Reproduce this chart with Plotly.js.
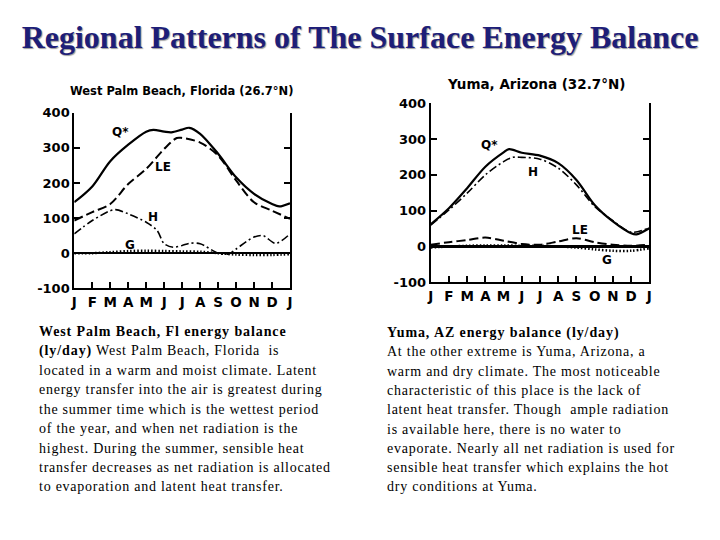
<!DOCTYPE html>
<html>
<head>
<meta charset="utf-8">
<script src="https://cdn.plot.ly/plotly-3.0.1.min.js"></script>
<style>html,body{margin:0;padding:0;background:#fff;}#chart{width:720px;height:540px;}</style>
</head>
<body>
<div id="chart"></div>
<script>
// ---- Data (ly/day), x = month index (0 = Jan ... 12 = Jan) ----
const monthLabels = ["J","F","M","A","M","J","J","A","S","O","N","D","J"];
const monthPos = [0,1,2,3,4,5,6,7,8,9,10,11,12];
const yTickVals = [-100,0,100,200,300,400];
const yTickText = ["-100","0","100","200","300","400"];

// West Palm Beach, Florida
const wpbQx  = [0,1,2,3,4,4.4,5,5.4,6,6.4,7,8,9,10,11,11.4,12];
const wpbQy  = [145,190,262,309,346,351,346,344,352,357,340,283,216,169,140,133,142];
const wpbLEx = [0,1,2,3,4,5,5.7,6,7,8,9,10,11,12];
const wpbLEy = [93,117,140,197,240,297,328,328,315,278,207,145,121,98];
const wpbHx  = [0,1,2,2.3,3,4,4.6,5,5.5,6,6.4,7,8,8.6,9,10,10.5,11.2,12];
const wpbHy  = [55,93,121,124,112,88,65,27,17,22,28,27,0,-2,12,46,50,28,55];
const wpbGx  = [0,1,2,3,4,5,6,7,8,9,10,11,12];
const wpbGy  = [0,0,3,6,7,6,5,4,0,-4,-5,-5,-3];

// Yuma, Arizona
const yumQx  = [0,1,2,3,4,4.3,5,6,7,8,9,10,11,11.3,12];
const yumQy  = [62,107,163,223,263,272,262,254,233,186,116,70,37,34,51];
const yumHx  = [0,1,2,3,4,4.5,5,6,7,8,9,10,11,12];
const yumHy  = [60,102,149,200,237,249,249,244,219,172,112,72,40,52];
const yumLEx = [0,1,2,3,4,5,6,7,8,9,10,11,12];
const yumLEy = [5,12,18,25,16,7,5,14,23,12,5,2,5];
const yumGx  = [0,1,2,3,4,5,6,7,8,9,10,11,12];
const yumGy  = [-3,0,2,3,3,2,2,0,-3,-8,-12,-12,-5];

const mainTitle = "Regional Patterns of The Surface Energy Balance";
const leftPanelTitle = "West Palm Beach, Florida (26.7°N)";
const rightPanelTitle = "Yuma, Arizona (32.7°N)";

const leftText = [
  "<b>West Palm Beach, Fl energy balance</b>",
  "<b>(ly/day)</b> West Palm Beach, Florida  is",
  "located in a warm and moist climate. Latent",
  "energy transfer into the air is greatest during",
  "the summer time which is the wettest period",
  "of the year, and when net radiation is the",
  "highest. During the summer, sensible heat",
  "transfer decreases as net radiation is allocated",
  "to evaporation and latent heat transfer."
];
const rightText = [
  "<b>Yuma, AZ energy balance (ly/day)</b>",
  "At the other extreme is Yuma, Arizona, a",
  "warm and dry climate. The most noticeable",
  "characteristic of this place is the lack of",
  "latent heat transfer. Though  ample radiation",
  "is available here, there is no water to",
  "evaporate. Nearly all net radiation is used for",
  "sensible heat transfer which explains the hot",
  "dry conditions at Yuma."
];

// ---- Traces ----
function tr(x, y, dash, w, xa, ya) {
  return {x: x, y: y, type: 'scatter', mode: 'lines', xaxis: xa, yaxis: ya,
          line: {color: '#000', width: w, dash: dash, shape: 'spline', smoothing: 0.9},
          hoverinfo: 'skip', showlegend: false};
}
const traces = [
  tr(wpbQx, wpbQy, 'solid', 2.2, 'x', 'y'),
  tr(wpbLEx, wpbLEy, '9px,4px', 2, 'x', 'y'),
  tr(wpbHx, wpbHy, '8px,3px,2px,3px', 1.6, 'x', 'y'),
  tr(wpbGx, wpbGy, '1.5px,2px', 2.5, 'x', 'y'),
  tr(yumQx, yumQy, 'solid', 2.2, 'x2', 'y2'),
  tr(yumHx, yumHy, '8px,3px,2px,3px', 1.6, 'x2', 'y2'),
  tr(yumLEx, yumLEy, '9px,4px', 2, 'x2', 'y2'),
  tr(yumGx, yumGy, '1.5px,2px', 2.5, 'x2', 'y2')
];

function xax(domain, anchor) {
  return {domain: domain, anchor: anchor, range: [0, 12], tickvals: monthPos, ticktext: monthLabels,
          ticks: 'inside', ticklen: 6, tickwidth: 2, tickcolor: '#000', showline: true, linewidth: 2,
          linecolor: '#000', showgrid: false, zeroline: false, fixedrange: true,
          tickfont: {family: 'DejaVu Sans', size: 13.5, weight: 'bold', color: '#000'}};
}
function yax(domain, anchor) {
  return {domain: domain, anchor: anchor, range: [-100, 400], tickvals: yTickVals, ticktext: yTickText,
          ticks: 'inside', ticklen: 6, tickwidth: 2, tickcolor: '#000', mirror: 'ticks', showline: true,
          linewidth: 2, linecolor: '#000', showgrid: false, zeroline: true, zerolinewidth: 2.5,
          zerolinecolor: '#000', fixedrange: true,
          tickfont: {family: 'DejaVu Sans', size: 13, weight: 'bold', color: '#000'}};
}

const lblFont = {family: 'DejaVu Sans', size: 12, weight: 'bold', color: '#000'};
function lbl(text, x, y, xr, yr) {
  return {text: text, x: x, y: y, xref: xr, yref: yr, xanchor: 'center', yanchor: 'middle',
          showarrow: false, font: lblFont};
}
const annotations = [
  lbl('Q*', 2.55, 345, 'x', 'y'),
  lbl('LE', 4.95, 245, 'x', 'y'),
  lbl('H', 4.4, 103, 'x', 'y'),
  lbl('G', 3.1, 22, 'x', 'y'),
  lbl('Q*', 3.25, 284, 'x2', 'y2'),
  lbl('H', 5.63, 209, 'x2', 'y2'),
  lbl('LE', 8.2, 47, 'x2', 'y2'),
  lbl('G', 9.66, -37, 'x2', 'y2'),
  {text: leftPanelTitle, x: 181.7/720, y: 1 - 90.5/540, xref: 'paper', yref: 'paper', showarrow: false,
   xanchor: 'center', yanchor: 'middle', font: {family: 'DejaVu Sans', size: 11.5, weight: 'bold', color: '#000'}},
  {text: rightPanelTitle, x: 536/720, y: 1 - 84.5/540, xref: 'paper', yref: 'paper', showarrow: false,
   xanchor: 'center', yanchor: 'middle', font: {family: 'DejaVu Sans', size: 13.5, weight: 'bold', color: '#000'}}
];
const firstTextIndex = annotations.length;
const txtFont = {family: 'Liberation Serif, Times New Roman, serif', size: 14, color: '#000'};
leftText.forEach(function (s, i) {
  annotations.push({text: s, x: 37/720, y: 1 - (331.7 + 19.4*i)/540, xref: 'paper', yref: 'paper',
    xanchor: 'left', yanchor: 'middle', align: 'left', showarrow: false, font: txtFont});
});
rightText.forEach(function (s, i) {
  annotations.push({text: s, x: 385/720, y: 1 - (332.5 + 19.3*i)/540, xref: 'paper', yref: 'paper',
    xanchor: 'left', yanchor: 'middle', align: 'left', showarrow: false, font: txtFont});
});

const layout = {
  width: 720, height: 540, margin: {l: 0, r: 0, t: 0, b: 0},
  paper_bgcolor: '#fff', plot_bgcolor: '#fff', showlegend: false,
  title: {text: mainTitle, x: 0.5, xanchor: 'center', y: 1 - 36.5/540, yanchor: 'middle',
          font: {family: 'Liberation Serif, Times New Roman, serif', size: 32, weight: 'bold', color: '#1e1e78',
                 shadow: '1px 1px 1px #9a9a9a'}},
  xaxis: xax([74.3/720, 290/720], 'y'),
  yaxis: yax([1 - 288.3/540, 1 - 112.7/540], 'x'),
  xaxis2: xax([430.7/720, 649.3/720], 'y2'),
  yaxis2: yax([1 - 282.3/540, 1 - 103.3/540], 'x2'),
  annotations: annotations
};

Plotly.newPlot('chart', traces, layout, {staticPlot: true, displayModeBar: false}).then(function () {
  // the slide's body text is set slightly letter-spaced
  document.querySelectorAll('#chart g.annotation').forEach(function (g) {
    const idx = parseInt(g.getAttribute('data-index'), 10);
    if (idx >= firstTextIndex) {
      const t = g.querySelector('text.annotation-text');
      if (t) {
        t.style.letterSpacing = '0.75px';
        t.querySelectorAll('tspan').forEach(function (s) {
          if ((s.getAttribute('style') || '').indexOf('bold') >= 0) s.style.letterSpacing = '0.9px';
        });
      }
    }
  });
});
</script>
</body>
</html>
